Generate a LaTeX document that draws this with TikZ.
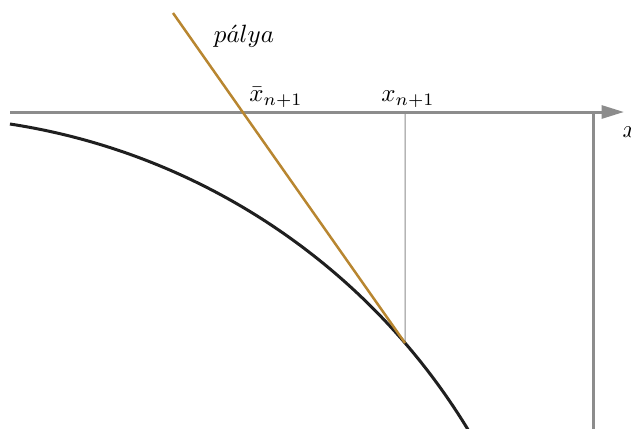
\documentclass[tikz,border=0pt]{standalone}
\usetikzlibrary{arrows.meta,calc}
\definecolor{gold}{RGB}{184,134,48}
\definecolor{axgray}{RGB}{140,140,140}
\begin{document}
\begin{tikzpicture}[x=0.4pt,y=-0.4pt,
  axisline/.style={draw=axgray,line width=1.2pt},
  thinline/.style={draw=axgray,line width=0.4pt},
  curveline/.style={draw=black!88,line width=1.2pt},
  orbit/.style={draw=gold,line width=1pt},
  lbl/.style={inner sep=0pt,font=\normalsize}]
\useasboundingbox (0,0) rectangle (631,428);
\coordinate (C) at (-89,768.3);
\coordinate (T) at ($(C)+(-40.72:651.9)$);
\coordinate (A0) at (10,112);
\coordinate (A1) at (624,112);
\coordinate (V0) at (593,112);
\coordinate (V1) at (593,440);
\coordinate (X) at (405,112);
\coordinate (P0) at (173,13);
% axes
\draw[axisline,-{Triangle[length=9pt,width=5.2pt]}] (A0) -- (A1);
\draw[axisline] (V0) -- (V1);
% thin vertical
\draw[thinline] (X) -- (T);
% surface arc
\draw[curveline] ($(C)+(-81.27:651.9)$) arc[start angle=-81.27,end angle=-28,radius=651.9];
% trajectory line
\draw[orbit] (P0) -- (T);
% labels
\node[lbl,anchor=south] (xb) at (276,108) {$\bar{x}_{n+1}$};
\node[lbl,anchor=south] (xn) at (408,108) {$x_{n+1}$};
\node[lbl,anchor=base] (palya) at (244,42) {$p\acute{a}lya$};
\node[lbl,anchor=base west] (xax) at (622,137) {$x$};
\end{tikzpicture}
\end{document}
